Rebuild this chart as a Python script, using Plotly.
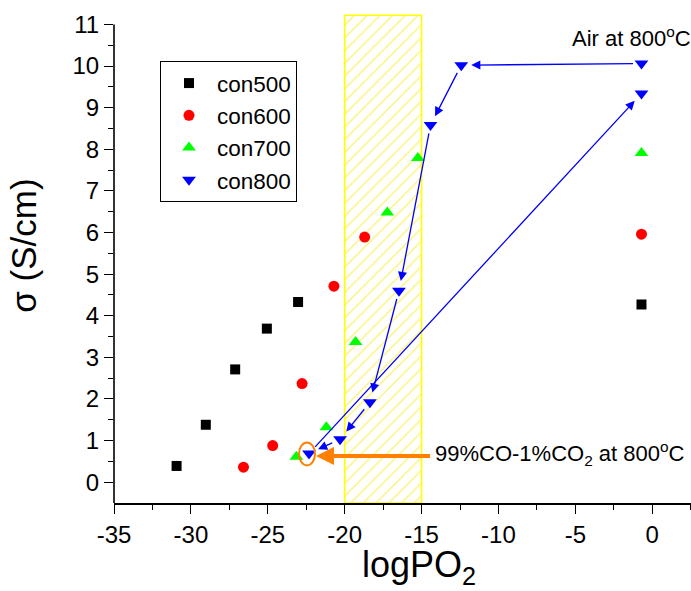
import plotly.graph_objects as go

# ---- data ----
con500_x = [-30.93, -29.03, -27.12, -25.06, -23.03, -0.7]
con500_y = [0.39, 1.38, 2.71, 3.69, 4.33, 4.27]
con600_x = [-26.58, -24.68, -22.77, -20.70, -18.70, -0.7]
con600_y = [0.36, 0.88, 2.37, 4.71, 5.89, 5.96]
con700_x = [-23.14, -21.19, -19.29, -17.23, -15.24, -0.7]
con700_y = [0.61, 1.32, 3.37, 6.48, 7.79, 7.91]
# con800 in measurement order: air -> reducing -> back to air
con800_x = [-0.7, -12.42, -14.42, -16.47, -18.36, -20.30, -22.32, -0.7]
con800_y = [10.06, 10.02, 8.58, 4.60, 1.92, 1.03, 0.69, 9.34]

window_x = [-20, -15]          # hatched logPO2 window
window_top = 11.22

x_range = [-35, 2.52]
y_range = [-0.5, 11.25]
x_ticks = [-35, -30, -25, -20, -15, -10, -5, 0]
y_ticks = list(range(0, 12))

x_title = "logPO<sub>2</sub>"
y_title = "σ (S/cm)"
air_label = "Air at 800<sup>o</sup>C"
co_label = "99%CO-1%CO<sub>2</sub> at 800<sup>o</sup>C"
air_label_pos = (-5.35, 10.69)
co_label_pos = (-14.25, 0.69)
orange_tip = (-22.32, 0.63)

FONT = "Liberation Sans, Arial, sans-serif"

fig = go.Figure()

# hatched window
fig.add_trace(go.Bar(
    x=[(window_x[0] + window_x[1]) / 2], y=[window_top - y_range[0]], base=[y_range[0]],
    width=[window_x[1] - window_x[0]],
    marker=dict(color="rgba(0,0,0,0)", line=dict(color="#FFFF00", width=1.6),
                pattern=dict(shape="/", fgcolor="#F8E800", bgcolor="white", size=9, solidity=0.17)),
    showlegend=False, hoverinfo="skip",
))

fig.add_trace(go.Scatter(x=con500_x, y=con500_y, mode="markers", name="con500",
                         marker=dict(symbol="square", size=10, color="black")))
fig.add_trace(go.Scatter(x=con600_x, y=con600_y, mode="markers", name="con600",
                         marker=dict(symbol="circle", size=11, color="#FF0000")))
fig.add_trace(go.Scatter(x=con700_x, y=con700_y, mode="markers", name="con700",
                         marker=dict(symbol="triangle-up", size=12, color="#00FF00")))
fig.add_trace(go.Scatter(x=con800_x, y=con800_y, mode="markers", name="con800",
                         marker=dict(symbol="triangle-down", size=12, color="#0000FF")))

annotations = []
# blue arrows following the con800 sequence
for i in range(len(con800_x) - 1):
    annotations.append(dict(
        x=con800_x[i + 1], y=con800_y[i + 1], ax=con800_x[i], ay=con800_y[i],
        xref="x", yref="y", axref="x", ayref="y", text="", showarrow=True,
        arrowhead=2, arrowsize=1.4, arrowwidth=1.3, arrowcolor="#0000FF",
        standoff=10, startstandoff=7,
    ))

# orange arrow to the circled point
annotations.append(dict(
    x=orange_tip[0], y=orange_tip[1], ax=co_label_pos[0] - 0.1, ay=orange_tip[1],
    xref="x", yref="y", axref="x", ayref="y", text="", showarrow=True,
    arrowhead=2, arrowsize=0.9, arrowwidth=4, arrowcolor="#FF7F00", standoff=7,
))

annotations.append(dict(x=air_label_pos[0], y=air_label_pos[1], xref="x", yref="y",
                        text=air_label, showarrow=False, xanchor="left", yanchor="middle",
                        font=dict(family=FONT, size=22, color="black")))
annotations.append(dict(x=co_label_pos[0], y=co_label_pos[1], xref="x", yref="y",
                        text=co_label, showarrow=False, xanchor="left", yanchor="middle",
                        font=dict(family=FONT, size=22, color="black")))
# axis titles
annotations.append(dict(x=0.528, y=-0.13, xref="paper", yref="paper", text=x_title,
                        showarrow=False, xanchor="center", yanchor="middle",
                        font=dict(family=FONT, size=36, color="black")))
annotations.append(dict(x=-0.157, y=0.527, xref="paper", yref="paper", text=y_title,
                        showarrow=False, xanchor="center", yanchor="middle", textangle=-90,
                        font=dict(family=FONT, size=35, color="black")))

shapes = [
    # orange ellipse around the lowest con800 point
    dict(type="circle", xref="x", yref="y", xsizemode="pixel", ysizemode="pixel",
         xanchor=con800_x[6] - 0.13, yanchor=con800_y[6] - 0.01,
         x0=-8, x1=8, y0=-11.5, y1=11.5, line=dict(color="#FF7F00", width=2)),
    # y axis line (ends at 11)
    dict(type="line", xref="paper", yref="y", x0=0, x1=0, y0=y_range[0], y1=y_ticks[-1],
         line=dict(color="black", width=1.6)),
]

fig.update_layout(
    width=691, height=591,
    margin=dict(l=114.3, r=0, t=13.6, b=88.4),
    paper_bgcolor="white", plot_bgcolor="white",
    font=dict(family=FONT, color="black"),
    barmode="overlay",
    annotations=annotations, shapes=shapes,
    legend=dict(x=0.0797, y=0.904, xanchor="left", yanchor="top",
                bordercolor="black", borderwidth=1, bgcolor="white",
                font=dict(family=FONT, size=22.5), itemwidth=46, tracegroupgap=0),
    xaxis=dict(range=x_range, tickvals=x_ticks, ticktext=[str(v) for v in x_ticks],
               showgrid=False, zeroline=False, showline=True, linecolor="black", linewidth=1.6,
               ticks="outside", ticklen=9, tickwidth=1.4, tickcolor="black",
               tickfont=dict(family=FONT, size=24),
               minor=dict(dtick=2.5, tick0=0, ticks="outside", ticklen=5, tickwidth=1.2, tickcolor="black")),
    yaxis=dict(range=y_range, tickvals=y_ticks, showgrid=False, zeroline=False, showline=False,
               ticks="outside", ticklen=9, tickwidth=1.4, tickcolor="black",
               tickfont=dict(family=FONT, size=24),
               minor=dict(tickvals=[v + 0.5 for v in range(0, 11)], ticks="outside", ticklen=5,
                          tickwidth=1.2, tickcolor="black")),
)

fig.write_html("out.html", config={"displayModeBar": False},
               post_script="document.body.style.margin='0';document.body.style.overflow='hidden';")
